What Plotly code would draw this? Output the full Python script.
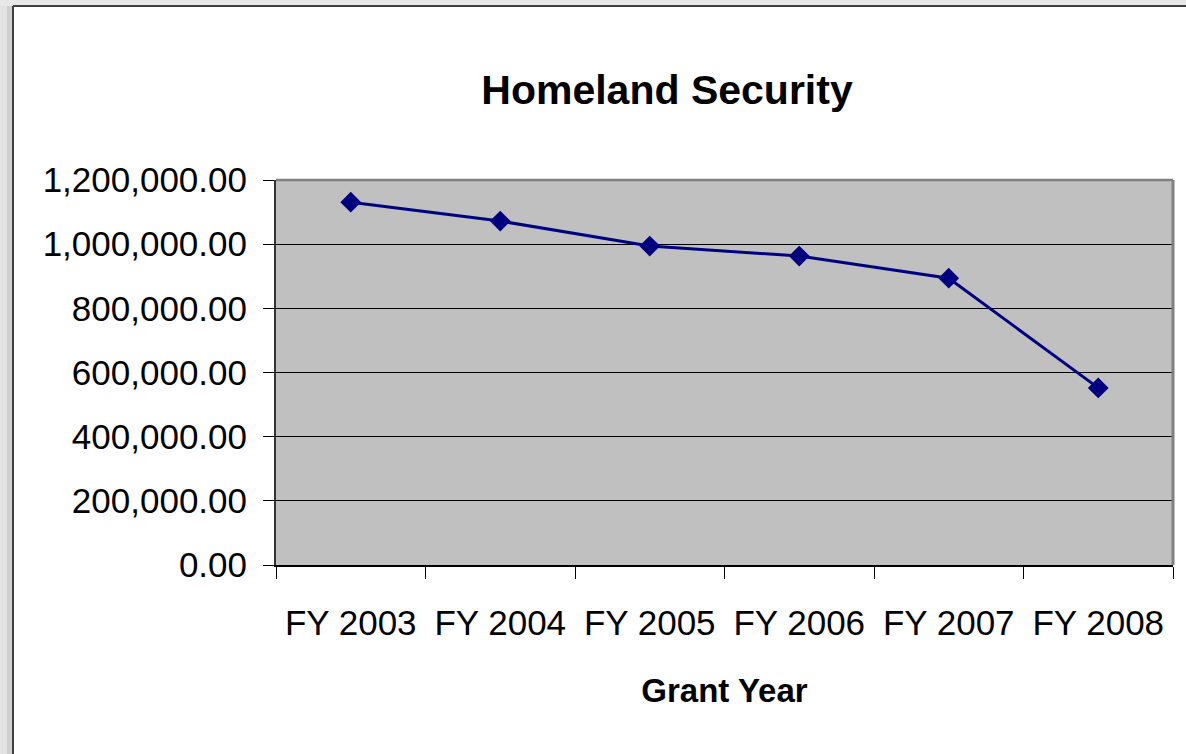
import plotly.graph_objects as go

categories = ["FY 2003", "FY 2004", "FY 2005", "FY 2006", "FY 2007", "FY 2008"]
values = [1131000, 1072000, 994000, 963000, 894000, 552000]

W, H = 1186, 754
L, R, T, B = 276, 13, 180, 189
pw = W - L - R
ph = H - T - B

def px(x):
    return (x - L) / pw

def py(y):
    return (H - B - y) / ph

fig = go.Figure()
fig.add_trace(go.Scatter(
    x=categories, y=values, mode="lines+markers",
    line=dict(color="#000080", width=3),
    marker=dict(symbol="diamond", size=16, color="#000080"),
    hoverinfo="x+y",
))

shapes = []
# outer frame (light gray strips at left and top)
shapes.append(dict(type="rect", xref="paper", yref="paper", x0=px(-5), x1=px(13), y0=py(H + 5), y1=py(-5),
                   fillcolor="#CFCFCF", line=dict(width=0), layer="below"))
shapes.append(dict(type="rect", xref="paper", yref="paper", x0=px(-5), x1=px(7), y0=py(H + 5), y1=py(-5),
                   fillcolor="#E2E2E2", line=dict(width=0), layer="below"))
shapes.append(dict(type="rect", xref="paper", yref="paper", x0=px(-5), x1=px(W + 5), y0=py(6), y1=py(-5),
                   fillcolor="#E8E8E8", line=dict(width=0), layer="below"))
shapes.append(dict(type="line", xref="paper", yref="paper", x0=px(13), x1=px(13), y0=py(6), y1=py(H + 5),
                   line=dict(color="#404040", width=2), layer="below"))
shapes.append(dict(type="line", xref="paper", yref="paper", x0=px(13), x1=px(W + 5), y0=py(6), y1=py(6),
                   line=dict(color="#404040", width=2), layer="below"))
# plot area border top and right
shapes.append(dict(type="line", xref="paper", yref="paper", x0=0, x1=1, y0=1, y1=1,
                   line=dict(color="#808080", width=2.5), layer="above"))
shapes.append(dict(type="line", xref="paper", yref="paper", x0=1, x1=1, y0=0, y1=1,
                   line=dict(color="#808080", width=3), layer="above"))

fig.update_layout(
    width=W, height=H,
    margin=dict(l=L, r=R, t=T, b=B, autoexpand=False),
    paper_bgcolor="white",
    plot_bgcolor="#C0C0C0",
    showlegend=False,
    font=dict(family="Liberation Sans, Arial, sans-serif", color="black"),
    title=dict(text="<b>Homeland Security</b>", font=dict(size=41, color="black"),
               x=px(667), xref="paper", xanchor="center",
               y=1 - 90 / H, yref="container", yanchor="middle"),
    shapes=shapes,
    xaxis=dict(
        type="category", range=[-0.5, len(categories) - 0.5],
        tickson="boundaries", ticks="outside", ticklen=12,
        tickcolor="black", tickwidth=1, showgrid=False,
        showline=True, linecolor="black", linewidth=2,
        tickfont=dict(size=35), ticklabelstandoff=26, automargin=False,
        title=dict(text="<b>Grant Year</b>", font=dict(size=33), standoff=38),
    ),
    yaxis=dict(
        range=[0, 1200000], dtick=200000, tickformat=",.2f",
        ticks="outside", ticklen=11, tickcolor="black", tickwidth=1,
        showgrid=True, gridcolor="black", gridwidth=1,
        showline=True, linecolor="#333333", linewidth=2, automargin=False,
        zeroline=False, tickfont=dict(size=35), ticklabelstandoff=9,
    ),
)

fig.write_html("out.html", config={"displayModeBar": False},
               post_script="document.body.style.margin='0';document.body.style.overflow='hidden';")
